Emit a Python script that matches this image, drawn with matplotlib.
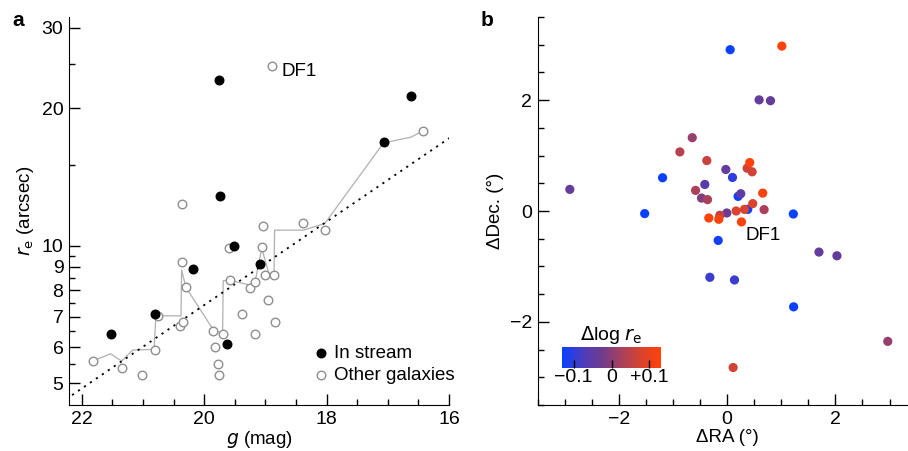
import matplotlib as mpl
import matplotlib.pyplot as plt
import numpy as np
from matplotlib.colors import LinearSegmentedColormap, Normalize
from matplotlib.ticker import FixedLocator, FixedFormatter, NullFormatter, MultipleLocator

mpl.use("Agg")
mpl.rcParams.update({"font.family": ["Liberation Sans", "DejaVu Sans"], "font.size": 13.5})

# ---- panel a: size vs magnitude ----
stream_g = [19.76, 16.62, 17.07, 19.74, 19.52, 20.18, 19.09, 20.80, 21.53, 19.63]
stream_re = [23.05, 21.3, 16.84, 12.83, 10.0, 8.91, 9.12, 7.10, 6.40, 6.10]

other_g = [18.90, 16.42, 20.37, 19.04, 18.38, 18.03, 19.60, 19.06, 20.36, 20.30,
           19.58, 19.25, 19.17, 19.00, 18.86, 18.95, 19.38, 18.85, 19.17, 20.76,
           20.40, 20.35, 19.85, 19.83, 19.70, 19.77, 19.76, 20.81, 21.02, 21.34,
           21.81]
other_re = [24.8, 17.85, 12.34, 11.03, 11.23, 10.82, 9.90, 9.92, 9.21, 8.11,
            8.40, 8.09, 8.32, 8.61, 8.61, 7.61, 7.10, 6.80, 6.41, 7.01,
            6.68, 6.80, 6.51, 6.00, 6.41, 5.50, 5.21, 5.90, 5.21, 5.41,
            5.60]

# running median line
run_g = [21.81, 21.53, 21.35, 21.17, 20.82, 20.79, 20.38, 20.37, 20.30, 19.85,
         19.70, 19.69, 19.58, 19.25, 19.17, 19.06, 18.94, 18.86, 18.85, 18.38,
         18.03, 17.07, 16.62, 16.42]
run_re = [5.60, 5.80, 5.59, 5.91, 5.93, 7.03, 7.02, 8.85, 8.11, 6.54,
          6.43, 8.39, 8.40, 8.20, 8.34, 9.87, 8.66, 8.66, 10.82, 10.82,
          11.19, 16.8, 17.3, 17.85]

# dotted relation (end points)
rel_g = [22.16, 15.99]
rel_re = [4.71, 17.23]

# ---- panel b: sky positions ----
ra = [0.055, -1.193, 0.202, -1.524, 0.38, 1.222, -0.166, 1.228,
      0.098, -0.32, 0.135,
      0.59, 0.80, -0.025, -0.413, -2.907, 0.251, -0.007, 1.696, 2.028,
      -0.474, 2.967, -0.645,
      -0.584, -0.363, 0.682, -0.874, -0.136,
      -0.376, 0.369, 0.461, 0.472, 0.166, 0.319, 0.11,
      1.01, 0.417, 0.657, -0.339, -0.155, 0.264]
dec = [2.91, 0.60, 0.264, -0.047, 0.03, -0.054, -0.531, -1.729,
       0.605, -1.196, -1.244,
       2.005, 1.99, 0.749, 0.479, 0.39, 0.312, -0.036, -0.741, -0.808,
       0.233, -2.352, 1.323,
       0.372, 0.205, 0.025, 1.066, -0.077,
       0.91, 0.772, 0.707, 0.133, 0.0, 0.03, -2.824,
       2.975, 0.874, 0.323, -0.126, -0.149, -0.197]
dlogre = [-0.13, -0.13, -0.12, -0.13, -0.13, -0.13, -0.12, -0.13,
          -0.10, -0.09, -0.09,
          -0.04, -0.04, -0.04, -0.06, -0.04, -0.05, -0.03, -0.04, -0.04,
          -0.01, 0.01, 0.01,
          0.03, 0.03, 0.03, 0.04, 0.05,
          0.06, 0.07, 0.07, 0.08, 0.08, 0.08, 0.07,
          0.13, 0.13, 0.12, 0.13, 0.13, 0.13]

cmap = LinearSegmentedColormap.from_list(
    "bluered", ["#0a40ff", "#4a3cc0", "#6e3c8e", "#a8405e", "#d8432e", "#ff4208"]
)
norm = Normalize(vmin=-0.13, vmax=0.13)

fig = plt.figure(figsize=(9.08, 4.51), dpi=100)

# panel a
ax1 = fig.add_axes([0.076, 0.102, 0.4185, 0.8603])
ax1.plot(run_g, run_re, color="#b0b0b0", lw=0.9, zorder=1)
ax1.plot(rel_g, rel_re, color="black", ls=(0, (1.2, 2.8)), lw=1.3, zorder=1)
ax1.scatter(other_g, other_re, s=38, facecolors="white", edgecolors="#8f8f8f", linewidths=1.0, zorder=2)
ax1.scatter(stream_g, stream_re, s=38, color="black", zorder=3)
ax1.set_yscale("log")
ax1.set_xlim(22.21, 16.0)
ax1.set_ylim(4.48, 31.7)
ax1.yaxis.set_major_locator(FixedLocator([5, 6, 7, 8, 9, 10, 20, 30]))
ax1.yaxis.set_major_formatter(FixedFormatter(["5", "6", "7", "8", "9", "10", "20", "30"]))
ax1.yaxis.set_minor_locator(FixedLocator([5.5, 6.5, 7.5, 8.5, 9.5, 15, 25]))
ax1.yaxis.set_minor_formatter(NullFormatter())
ax1.xaxis.set_major_locator(FixedLocator([22, 20, 18, 16]))
ax1.xaxis.set_minor_locator(MultipleLocator(0.5))
ax1.set_xlabel(r"$g$ (mag)", labelpad=1)
ax1.set_ylabel(r"$r_{\rm e}$ (arcsec)", labelpad=4)
ax1.annotate("DF1", (18.90, 24.8), xytext=(7, -4), textcoords="offset points", va="center")
ax1.scatter([], [], s=38, color="black", label="In stream")
ax1.scatter([], [], s=38, facecolors="white", edgecolors="#8f8f8f", linewidths=1.0, label="Other galaxies")
ax1.legend(loc="lower right", bbox_to_anchor=(1.045, 0.025), frameon=False, handletextpad=0.1,
           borderaxespad=0.2, labelspacing=0.25, handlelength=1.2)

# panel b
ax2 = fig.add_axes([0.5922, 0.102, 0.4173, 0.8603])
ax2.scatter(ra, dec, c=dlogre, cmap=cmap, norm=norm, s=44, linewidths=0, zorder=2)
ax2.set_xlim(-3.5, 3.5)
ax2.set_ylim(-3.5, 3.5)
ax2.xaxis.set_major_locator(FixedLocator([-2, 0, 2]))
ax2.yaxis.set_major_locator(FixedLocator([-2, 0, 2]))
ax2.xaxis.set_minor_locator(MultipleLocator(0.5))
ax2.yaxis.set_minor_locator(MultipleLocator(0.5))
ax2.xaxis.set_major_formatter(FixedFormatter(["\u22122", "0", "2"]))
ax2.yaxis.set_major_formatter(FixedFormatter(["\u22122", "0", "2"]))
ax2.set_xlabel("\u0394RA (\u00b0)", labelpad=1)
ax2.set_ylabel("\u0394Dec. (\u00b0)", labelpad=4)
ax2.text(0.33, -0.52, "DF1")

for ax in (ax1, ax2):
    for side in ("top", "right"):
        ax.spines[side].set_visible(False)
    ax.tick_params(which="major", direction="in", length=8, width=1.0, labelsize=14, pad=4)
    ax.tick_params(which="minor", direction="in", length=4, width=1.0)

# colour bar
cax = fig.add_axes([562.3 / 908, 1 - 367.7 / 451, 98.4 / 908, 21 / 451])
cb = fig.colorbar(mpl.cm.ScalarMappable(norm=norm, cmap=cmap), cax=cax, orientation="horizontal")
cb.outline.set_visible(False)
cb.set_ticks([-0.1, 0, 0.1])
cb.set_ticklabels(["\u22120.1", "0", "+0.1"])
cax.tick_params(direction="in", length=6, width=1.0, labelsize=14, pad=1, color="black")
cax.set_title(r"$\Delta$log $r_{\rm e}$", fontsize=14, pad=5)

fig.text(12 / 908, 1 - 20 / 451, "a", fontsize=15, fontweight="bold", va="center", ha="left")
fig.text(481 / 908, 1 - 20 / 451, "b", fontsize=15, fontweight="bold", va="center", ha="left")

fig.savefig("out.png", dpi=100)
